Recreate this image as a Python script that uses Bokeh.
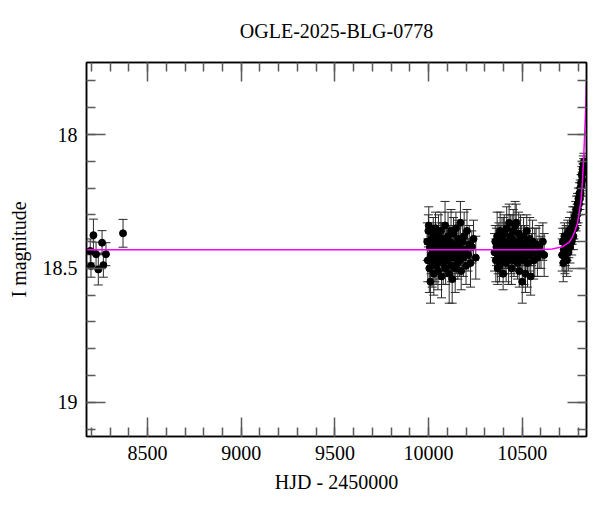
from bokeh.plotting import figure
from bokeh.models import (Range1d, LinearAxis, SingleIntervalTicker, ColumnDataSource,
                          Whisker, TeeHead, Title, CustomLabelingPolicy, Spacer)
from bokeh.layouts import column, row
from bokeh.embed import file_html
from bokeh.resources import INLINE

TITLE = "OGLE-2025-BLG-0778"
XLABEL = "HJD - 2450000"
YLABEL = "I magnitude"

# --- photometry ---
t1 = [8194, 8198, 8211, 8225, 8237, 8257, 8264, 8278, 8369]
m1 = [18.435, 18.491, 18.376, 18.447, 18.504, 18.404, 18.488, 18.447, 18.369]
e1 = [0.045, 0.042, 0.06, 0.045, 0.058, 0.045, 0.045, 0.043, 0.052]

t2 = [9993, 9996, 9999, 10001, 10004, 10007, 10010, 10013, 10016, 10019,
      10022, 10025, 10028, 10031, 10034, 10037, 10040, 10043, 10046, 10050,
      10053, 10056, 10059, 10062, 10066, 10069, 10072, 10075, 10078, 10081,
      10085, 10088, 10091, 10094, 10097, 10101, 10104, 10107, 10110, 10113,
      10117, 10120, 10123, 10126, 10129, 10133, 10136, 10139, 10142, 10146,
      10149, 10152, 10156, 10159, 10163, 10166, 10170, 10174, 10178, 10182,
      10186, 10190, 10195, 10200, 10205, 10211, 10217, 10224, 10231, 10240,
      10252]
m2 = [18.40, 18.47, 18.36, 18.34, 18.50, 18.42, 18.55, 18.45, 18.39, 18.48,
      18.44, 18.37, 18.52, 18.41, 18.46, 18.35, 18.49, 18.43, 18.40, 18.51,
      18.38, 18.45, 18.47, 18.42, 18.36, 18.53, 18.44, 18.40, 18.48, 18.39,
      18.46, 18.34, 18.50, 18.43, 18.41, 18.47, 18.38, 18.45, 18.52, 18.40,
      18.44, 18.36, 18.49, 18.54, 18.42, 18.37, 18.46, 18.41, 18.50, 18.35,
      18.45, 18.43, 18.48, 18.39, 18.42, 18.47, 18.33, 18.51, 18.44, 18.40,
      18.46, 18.38, 18.43, 18.49, 18.36, 18.45, 18.41, 18.48, 18.42, 18.39,
      18.46]
e2 = [0.07, 0.08, 0.06, 0.07, 0.09, 0.06, 0.08, 0.07, 0.06, 0.09,
      0.07, 0.06, 0.08, 0.07, 0.09, 0.06, 0.07, 0.08, 0.06, 0.07,
      0.08, 0.06, 0.07, 0.09, 0.07, 0.08, 0.06, 0.07, 0.08, 0.06,
      0.07, 0.09, 0.06, 0.08, 0.07, 0.06, 0.09, 0.07, 0.11, 0.06,
      0.07, 0.08, 0.06, 0.09, 0.07, 0.06, 0.08, 0.07, 0.09, 0.06,
      0.07, 0.08, 0.06, 0.07, 0.09, 0.06, 0.08, 0.07, 0.06, 0.08,
      0.07, 0.09, 0.06, 0.07, 0.08, 0.06, 0.07, 0.09, 0.06, 0.07,
      0.08]

t3 = [10352, 10356, 10359, 10362, 10366, 10369, 10372, 10375, 10379, 10382,
      10385, 10388, 10392, 10395, 10398, 10401, 10404, 10408, 10411, 10414,
      10417, 10420, 10424, 10427, 10430, 10433, 10436, 10440, 10443, 10446,
      10449, 10452, 10456, 10459, 10462, 10465, 10468, 10472, 10475, 10478,
      10481, 10484, 10488, 10491, 10494, 10497, 10500, 10504, 10507, 10510,
      10513, 10517, 10520, 10524, 10528, 10532, 10536, 10540, 10545, 10550,
      10555, 10561, 10567, 10574, 10581, 10590, 10600, 10610, 10617]
m3 = [18.44, 18.40, 18.47, 18.42, 18.38, 18.50, 18.45, 18.41, 18.49, 18.36,
      18.43, 18.47, 18.39, 18.44, 18.52, 18.40, 18.37, 18.46, 18.42, 18.48,
      18.35, 18.44, 18.40, 18.47, 18.33, 18.42, 18.38, 18.45, 18.50, 18.39,
      18.43, 18.36, 18.47, 18.41, 18.34, 18.45, 18.33, 18.40, 18.48, 18.42,
      18.37, 18.51, 18.44, 18.39, 18.46, 18.41, 18.55, 18.43, 18.38, 18.47,
      18.40, 18.52, 18.44, 18.36, 18.48, 18.42, 18.45, 18.39, 18.53, 18.43,
      18.40, 18.47, 18.44, 18.41, 18.46, 18.42, 18.44, 18.40, 18.45]
e3 = [0.07, 0.06, 0.08, 0.07, 0.09, 0.06, 0.07, 0.08, 0.06, 0.07,
      0.09, 0.06, 0.08, 0.07, 0.06, 0.09, 0.07, 0.06, 0.08, 0.07,
      0.08, 0.06, 0.07, 0.09, 0.07, 0.06, 0.08, 0.07, 0.06, 0.09,
      0.07, 0.08, 0.06, 0.07, 0.09, 0.06, 0.07, 0.08, 0.06, 0.07,
      0.08, 0.06, 0.07, 0.09, 0.06, 0.07, 0.08, 0.06, 0.07, 0.09,
      0.06, 0.07, 0.08, 0.06, 0.09, 0.07, 0.06, 0.08, 0.07, 0.06,
      0.08, 0.07, 0.09, 0.06, 0.07, 0.08, 0.06, 0.07, 0.08]

t4 = [10713, 10716, 10719, 10722, 10725, 10728, 10731, 10734, 10737, 10740,
      10743, 10746, 10749, 10752, 10755, 10758, 10761, 10764, 10767, 10770,
      10773, 10776, 10779, 10782, 10785, 10788, 10790, 10793, 10795, 10798,
      10800, 10803, 10805, 10808, 10810, 10812, 10814, 10816, 10818, 10820,
      10822, 10824, 10826, 10828, 10830]
m4 = [18.45, 18.40, 18.48, 18.43, 18.38, 18.46, 18.42, 18.39, 18.47, 18.41,
      18.37, 18.44, 18.40, 18.36, 18.42, 18.38, 18.35, 18.40, 18.36, 18.33,
      18.38, 18.34, 18.31, 18.35, 18.30, 18.32, 18.28, 18.30, 18.26, 18.28,
      18.24, 18.26, 18.22, 18.24, 18.20, 18.22, 18.18, 18.19, 18.15, 18.17,
      18.13, 18.14, 18.11, 18.12, 18.10]
e4 = [0.06, 0.05, 0.07, 0.06, 0.05, 0.06, 0.07, 0.05, 0.06, 0.06,
      0.05, 0.07, 0.06, 0.05, 0.06, 0.05, 0.06, 0.05, 0.05, 0.06,
      0.05, 0.05, 0.04, 0.05, 0.05, 0.04, 0.05, 0.04, 0.04, 0.05,
      0.04, 0.04, 0.04, 0.04, 0.03, 0.04, 0.03, 0.04, 0.03, 0.03,
      0.03, 0.03, 0.03, 0.03, 0.03]

# --- model curve ---
model_t = [8174, 10400, 10591, 10660, 10715, 10751, 10769, 10783, 10795, 10804,
           10814, 10821, 10827, 10832, 10837, 10843]
model_m = [18.43, 18.43, 18.43, 18.428, 18.419, 18.402, 18.382, 18.357, 18.331, 18.29,
           18.245, 18.18, 18.096, 18.02, 17.934, 17.81]

X_MIN, X_MAX = 8174, 10843
Y_FAINT, Y_BRIGHT = 19.128, 17.731

t = t1 + t2 + t3 + t4
m = m1 + m2 + m3 + m4
e = e1 + e2 + e3 + e4
assert len(t) == len(m) == len(e)
src = ColumnDataSource(dict(t=t, m=m, lo=[a - b for a, b in zip(m, e)],
                            hi=[a + b for a, b in zip(m, e)]))

FONT = "Liberation Serif"

p = figure(frame_width=500, frame_height=374,
           min_border_left=0, min_border_right=2, min_border_top=0, min_border_bottom=0,
           x_range=Range1d(X_MIN, X_MAX), y_range=Range1d(Y_FAINT, Y_BRIGHT),
           x_axis_type=None, y_axis_type=None,
           output_backend="svg", toolbar_location=None)
p.outline_line_color = "black"
p.outline_line_width = 1.5
p.background_fill_color = "white"
p.border_fill_color = "white"

p.title = Title(text=TITLE, align="center", text_font=FONT, text_font_size="20px",
                text_font_style="normal", text_color="black", standoff=8)

HIDE = CustomLabelingPolicy(code="""
for (const i of indices)
    indices.unset(i)
""")


def style(ax, labels):
    ax.major_tick_in = 19
    ax.major_tick_out = 0
    ax.minor_tick_in = 9
    ax.minor_tick_out = 0
    ax.major_tick_line_color = "#5a5a5a"
    ax.minor_tick_line_color = "#5a5a5a"
    ax.major_tick_line_width = 1.5
    ax.minor_tick_line_width = 1.5
    ax.axis_line_color = "black"
    ax.axis_line_width = 1.5
    ax.major_label_text_font = FONT
    ax.major_label_text_font_size = "20px"
    ax.major_label_text_color = "black"
    ax.axis_label_text_font = FONT
    ax.axis_label_text_font_size = "20px"
    ax.axis_label_text_font_style = "normal"
    ax.axis_label_text_color = "black"
    if not labels:
        ax.major_label_policy = HIDE
        ax.major_label_standoff = 0


xt = lambda: SingleIntervalTicker(interval=500, num_minor_ticks=5)
yt = lambda: SingleIntervalTicker(interval=0.5, num_minor_ticks=5)

xb = LinearAxis(ticker=xt(), axis_label=XLABEL)
style(xb, True)
xb.major_label_standoff = 9
xb.axis_label_standoff = 8
p.add_layout(xb, "below")

xa = LinearAxis(ticker=xt())
style(xa, False)
p.add_layout(xa, "above")

yl = LinearAxis(ticker=yt(), axis_label=YLABEL)
style(yl, True)
yl.major_label_standoff = 9
yl.axis_label_standoff = 10
p.add_layout(yl, "left")

yr = LinearAxis(ticker=yt())
style(yr, False)
p.add_layout(yr, "right")

head = lambda: TeeHead(size=9, line_color="#2a2a2a", line_width=1)
wh = Whisker(source=src, base="t", lower="lo", upper="hi", dimension="height",
             line_color="#2a2a2a", line_width=1, upper_head=head(), lower_head=head())
p.add_layout(wh)

p.scatter("t", "m", source=src, size=7, color="black")
p.line(model_t, model_m, color="#ff00ff", line_width=1.5)

page = column(Spacer(height=13), row(Spacer(width=4), p))
open("out.html", "w").write(file_html(page, INLINE))
